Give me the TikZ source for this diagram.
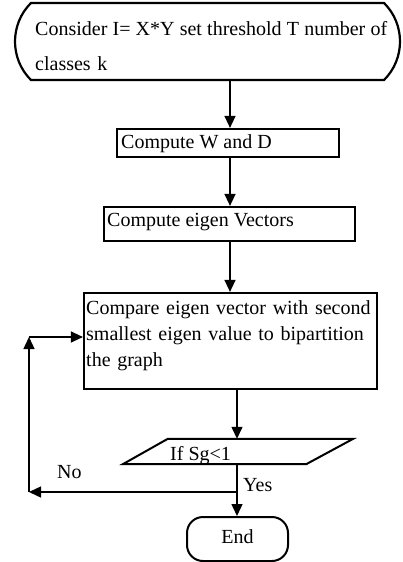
\documentclass[tikz,border=0pt]{standalone}
\usepackage{fontspec}
\setmainfont{Liberation Serif}
\usetikzlibrary{arrows.meta,shapes.misc}
\begin{document}
\begin{tikzpicture}[x=1pt,y=-1pt,
  every node/.style={font=\fontsize{20}{26}\selectfont},
  box/.style={draw, line width=2.2pt, inner sep=0pt},
  txt/.style={inner sep=0pt, anchor=base west},
  link/.style={line width=1.4pt, -{Triangle[length=12pt,width=11pt]}}]
\useasboundingbox (0,0) rectangle (402,562);

% start terminal
\node[draw, line width=2.2pt, rounded rectangle, rounded rectangle arc length=90,
      minimum width=385pt, minimum height=77pt, inner sep=0pt] (start) at (207.5,41.5) {};
\node[txt, text width=360pt, align=left, font=\fontsize{20}{35}\selectfont] (starttxt) at (35,35)
  {{\spaceskip=3pt plus 4pt minus 1pt
    \makebox[352pt][s]{Consider I= X*Y set threshold T number of}}\\classes k};

% process boxes
\node[box, minimum width=222pt, minimum height=28pt] (wd) at (228,143) {};
\node[txt] (wdtxt) at (121,148) {Compute W and D};

\node[box, minimum width=251pt, minimum height=34pt] (vec) at (229.5,224) {};
\node[txt] (vectxt) at (107,226) {Compute eigen Vectors};

\node[box, minimum width=293pt, minimum height=96pt] (cmp) at (230.5,341) {};
\node[txt, text width=289pt, align=left] (cmptxt) at (86,314)
  {\makebox[\linewidth][s]{Compare eigen vector with second}\\
   \makebox[\linewidth][s]{smallest eigen value to bipartition}\\
   the graph};

% decision (parallelogram)
\node[minimum width=230pt, minimum height=25pt, inner sep=0pt] (dec) at (238,451.5) {};
\draw[line width=2pt, line join=miter]
  (dec.south west) -- ([xshift=45pt]dec.north west) -- (dec.north east)
  -- ([xshift=-47pt]dec.south east) -- cycle;
\node[txt] (dectxt) at (170,460) {If Sg<1};

% end terminal
\node[draw, line width=2pt, rounded corners=16pt, minimum width=101pt,
      minimum height=44pt, inner sep=0pt] (end) at (237.5,539) {};
\node[inner sep=0pt, anchor=base] (endtxt) at (237.5,543) {End};

% connectors
\coordinate (colA) at (230,0);
\coordinate (colB) at (237,0);
\draw[link] (start.south -| colA) -- (wd.north -| colA);
\draw[link] (wd.south -| colA) -- (vec.north -| colA);
\draw[link] (vec.south -| colA) -- (cmp.north -| colA);
\draw[link] (cmp.south -| colB) -- (dec.north -| colB);
\draw[link] (dec.south -| colB) -- (end.north -| colB);

\coordinate (split) at (237,492);
\coordinate (lb) at (29,492);
\coordinate (lt) at (29,337);
\draw[link] (split) -- (lb);
\draw[link] (lb) -- (lt);
\draw[link] (lt) -- (lt -| cmp.west);

% branch labels
\node[txt] (no) at (57,478) {No};
\node[txt] (yes) at (243,491) {Yes};
\end{tikzpicture}
\end{document}
